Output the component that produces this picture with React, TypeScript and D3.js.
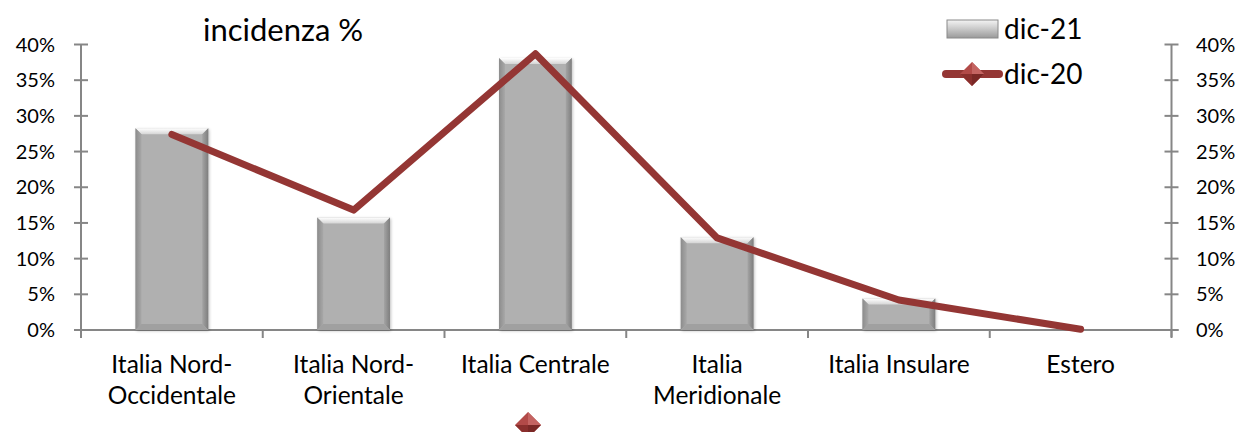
import React from "react";
import * as d3 from "d3";

const categories = [
  ["Italia Nord-", "Occidentale"],
  ["Italia Nord-", "Orientale"],
  ["Italia Centrale"],
  ["Italia", "Meridionale"],
  ["Italia Insulare"],
  ["Estero"],
];
const dic21 = [0.2825, 0.1575, 0.381, 0.13, 0.044, 0];
const dic20 = [0.274, 0.168, 0.387, 0.129, 0.042, 0.001];
const yTicks = [0, 0.05, 0.1, 0.15, 0.2, 0.25, 0.3, 0.35, 0.4];

const W = 1247;
const H = 432;
const left = 81;
const right = 1171.5;
const top = 44.5;
const bottom = 330;
const FONT = "Lato, 'Liberation Sans', sans-serif";
const RED = "#943634";

export default function App() {
  const x = d3
    .scaleBand<number>()
    .domain(d3.range(categories.length))
    .range([left, right])
    .paddingInner(0.6)
    .paddingOuter(0.3);
  const band = (right - left) / categories.length;
  const y = d3.scaleLinear().domain([0, 0.4]).range([bottom, top]);
  const line = d3
    .line<number>()
    .x((_, i) => left + band * (i + 0.5))
    .y((d) => y(d));
  const pct = d3.format(".0%");
  const bw = x.bandwidth();
  const bev = 6;

  const bar = (i: number, v: number) => {
    const x0 = left + band * (i + 0.5) - bw / 2;
    const x1 = x0 + bw;
    const y0 = y(v);
    const y1 = y(0);
    const h = y1 - y0;
    if (h < 1) return null;
    const b = Math.min(bev, h / 2);
    return (
      <g key={i}>
        <rect x={x0 + 1} y={y0 + 1} width={bw} height={h} fill="#000" opacity={0.25} filter="url(#soft)" />
        <rect x={x0} y={y0} width={bw} height={h} fill="#b0b0b0" />
        <polygon points={`${x0},${y0} ${x1},${y0} ${x1 - b},${y0 + b} ${x0 + b},${y0 + b}`} fill="url(#topG)" />
        <polygon points={`${x0},${y0} ${x0 + b},${y0 + b} ${x0 + b},${y1 - b} ${x0},${y1}`} fill="url(#leftG)" />
        <polygon points={`${x1},${y0} ${x1 - b},${y0 + b} ${x1 - b},${y1 - b} ${x1},${y1}`} fill="url(#rightG)" />
        <polygon points={`${x0},${y1} ${x0 + b},${y1 - b} ${x1 - b},${y1 - b} ${x1},${y1}`} fill="#a0a0a0" />
      </g>
    );
  };

  const diamond = (cx: number, cy: number, r: number, key?: string) => (
    <g key={key}>
      <polygon points={`${cx},${cy - r} ${cx + r},${cy} ${cx},${cy + r} ${cx - r},${cy}`} fill="#b24a48" />
      <polygon points={`${cx},${cy - r} ${cx + r},${cy} ${cx},${cy}`} fill="#c46462" />
      <polygon points={`${cx - r},${cy} ${cx},${cy + r} ${cx},${cy}`} fill="#8a2f2d" />
      <polygon points={`${cx + r},${cy} ${cx},${cy + r} ${cx},${cy}`} fill="#7a2826" />
    </g>
  );

  return (
    <svg width={W} height={H} style={{ position: "absolute", left: 0, top: 0, background: "#fff" }}>
      <defs>
        <linearGradient id="topG" x1="0" y1="0" x2="0" y2="1">
          <stop offset="0" stopColor="#ffffff" />
          <stop offset="1" stopColor="#d4d4d4" />
        </linearGradient>
        <linearGradient id="leftG" x1="0" y1="0" x2="1" y2="0">
          <stop offset="0" stopColor="#8c8c8c" />
          <stop offset="1" stopColor="#a8a8a8" />
        </linearGradient>
        <linearGradient id="rightG" x1="1" y1="0" x2="0" y2="0">
          <stop offset="0" stopColor="#7e7e7e" />
          <stop offset="1" stopColor="#a4a4a4" />
        </linearGradient>
        <linearGradient id="legG" x1="0" y1="0" x2="0" y2="1">
          <stop offset="0" stopColor="#f4f4f4" />
          <stop offset="0.5" stopColor="#c8c8c8" />
          <stop offset="1" stopColor="#9a9a9a" />
        </linearGradient>
        <filter id="soft" x="-20%" y="-20%" width="140%" height="140%">
          <feGaussianBlur stdDeviation="1.5" />
        </filter>
      </defs>

      <text x={203} y={41} fontFamily={FONT} fontSize={31} fill="#000">
        incidenza %
      </text>

      {/* axes */}
      <g stroke="#868686" strokeWidth={2}>
        <line x1={left} y1={top} x2={left} y2={bottom + 7} />
        <line x1={right} y1={top} x2={right} y2={bottom + 7} />
        <line x1={left - 7} y1={bottom} x2={right + 7} y2={bottom} />
        {yTicks.map((t) => (
          <g key={t}>
            <line x1={left - 7} x2={left + 7} y1={y(t)} y2={y(t)} />
            <line x1={right - 7} x2={right + 7} y1={y(t)} y2={y(t)} />
          </g>
        ))}
        {d3.range(categories.length + 1).map((i) => (
          <line key={i} x1={left + band * i} x2={left + band * i} y1={bottom} y2={bottom + 8} />
        ))}
      </g>
      {yTicks.map((t) => (
        <g key={t} fontFamily={FONT} fontSize={20} fill="#000">
          <text x={55} y={y(t) + 7} textAnchor="end">{pct(t)}</text>
          <text x={1196} y={y(t) + 7}>{pct(t)}</text>
        </g>
      ))}

      {categories.map((lines, i) => (
        <text key={i} x={left + band * (i + 0.5)} y={373} textAnchor="middle" fontFamily={FONT} fontSize={24.5} fill="#000">
          {lines.map((l, j) => (
            <tspan key={j} x={left + band * (i + 0.5)} dy={j === 0 ? 0 : 31}>{l}</tspan>
          ))}
        </text>
      ))}

      {dic21.map((v, i) => bar(i, v))}

      <path d={line(dic20) ?? ""} fill="none" stroke={RED} strokeWidth={7} strokeLinejoin="round" strokeLinecap="round" />

      {/* legend */}
      <rect x={947} y={20} width={51} height={18} fill="url(#legG)" stroke="#8a8a8a" strokeWidth={1} />
      <text x={1004} y={39} fontFamily={FONT} fontSize={28} fill="#000">dic-21</text>
      <line x1={946} x2={999} y1={74} y2={74} stroke={RED} strokeWidth={8} strokeLinecap="round" />
      {diamond(972, 74, 12, "leg")}
      <text x={1004} y={84} fontFamily={FONT} fontSize={28} fill="#000">dic-20</text>

      {diamond(528, 425, 13, "stray")}
    </svg>
  );
}
